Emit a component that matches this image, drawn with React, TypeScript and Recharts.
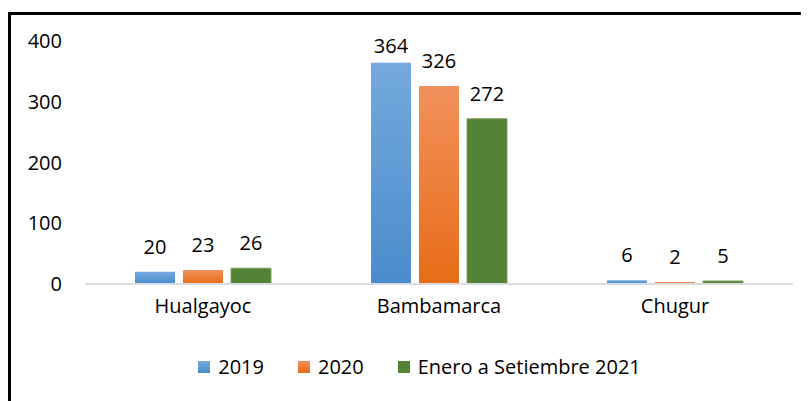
import React from "react"
import { BarChart, Bar, XAxis, YAxis, Legend, LabelList } from "recharts"

const categories = ["Hualgayoc", "Bambamarca", "Chugur"]
const values2019 = [20, 364, 6]
const values2020 = [23, 326, 2]
const values2021 = [26, 272, 5]
const yTicks = [0, 100, 200, 300, 400]

const seriesNames = ["2019", "2020", "Enero a Setiembre 2021"]

const data = categories.map((name, i) => ({
  name,
  y2019: values2019[i],
  y2020: values2020[i],
  y2021: values2021[i],
}))

const FONT = "'Open Sans', sans-serif"

const legendItems = [
  { label: seriesNames[0], swatch: "linear-gradient(#74a9dd, #4a8ccb)" },
  { label: seriesNames[1], swatch: "linear-gradient(#f1915c, #e86c17)" },
  { label: seriesNames[2], swatch: "#548235" },
]

const TopLabel = (props: any) => {
  const { x, y, width, value } = props
  const ty = Math.max(y - 18, 45)
  return (
    <text
      x={x + width / 2}
      y={ty}
      textAnchor="middle"
      fontSize={20}
      fontFamily={FONT}
      fill="#000"
    >
      {value}
    </text>
  )
}

const renderLegend = () => (
  <div
    style={{
      display: "flex",
      justifyContent: "center",
      alignItems: "center",
      gap: 34,
      fontFamily: FONT,
      fontSize: 20,
      lineHeight: "24px",
      height: 24,
      color: "#000",
    }}
  >
    {legendItems.map((it) => (
      <div key={it.label} style={{ display: "flex", alignItems: "center", gap: 8 }}>
        <span style={{ width: 12, height: 12, background: it.swatch, display: "inline-block" }} />
        <span>{it.label}</span>
      </div>
    ))}
  </div>
)

export default function App() {
  return (
    <div style={{ position: "relative", width: 801, height: 393 }}>
      <div
        style={{
          position: "absolute",
          left: 0,
          top: 4,
          width: 820,
          height: 420,
          borderTop: "3px solid #000",
          borderLeft: "3px solid #000",
          boxShadow: "0 1px 0 #999",
          boxSizing: "border-box",
        }}
      />
      <div style={{ position: "absolute", left: 0, top: 0 }}>
        <BarChart
          width={801}
          height={393}
          data={data}
          margin={{ top: 33, right: 16, bottom: 53, left: 0 }}
          barSize={40}
          barGap={8}
        >
          <defs>
            <linearGradient id="gBlue" x1="0" y1="0" x2="0" y2="1">
              <stop offset="0%" stopColor="#74a9dd" />
              <stop offset="100%" stopColor="#4a8ccb" />
            </linearGradient>
            <linearGradient id="gOrange" x1="0" y1="0" x2="0" y2="1">
              <stop offset="0%" stopColor="#f1915c" />
              <stop offset="100%" stopColor="#e86c17" />
            </linearGradient>
          </defs>
          <XAxis
            dataKey="name"
            axisLine={{ stroke: "#d9dce3", strokeWidth: 2 }}
            tickLine={false}
            tickSize={0}
            tickMargin={15}
            height={40}
            tick={{ fill: "#000", fontSize: 20, fontFamily: FONT }}
          />
          <YAxis
            domain={[0, 400]}
            ticks={yTicks}
            axisLine={false}
            tickLine={false}
            tickSize={0}
            tickMargin={23}
            width={77}
            tick={{ fill: "#000", fontSize: 20, fontFamily: FONT }}
          />
          <Legend
            content={renderLegend}
            wrapperStyle={{ left: 11, top: 347, width: 801, height: 24 }}
          />
          <Bar dataKey="y2019" name={seriesNames[0]} fill="url(#gBlue)" minPointSize={2} isAnimationActive={false}>
            <LabelList dataKey="y2019" content={TopLabel} />
          </Bar>
          <Bar dataKey="y2020" name={seriesNames[1]} fill="url(#gOrange)" minPointSize={2} isAnimationActive={false}>
            <LabelList dataKey="y2020" content={TopLabel} />
          </Bar>
          <Bar
            dataKey="y2021"
            name={seriesNames[2]}
            fill="#548235"
            stroke="#7ba55e"
            strokeWidth={1}
            minPointSize={2}
            isAnimationActive={false}
          >
            <LabelList dataKey="y2021" content={TopLabel} />
          </Bar>
        </BarChart>
      </div>
    </div>
  )
}
